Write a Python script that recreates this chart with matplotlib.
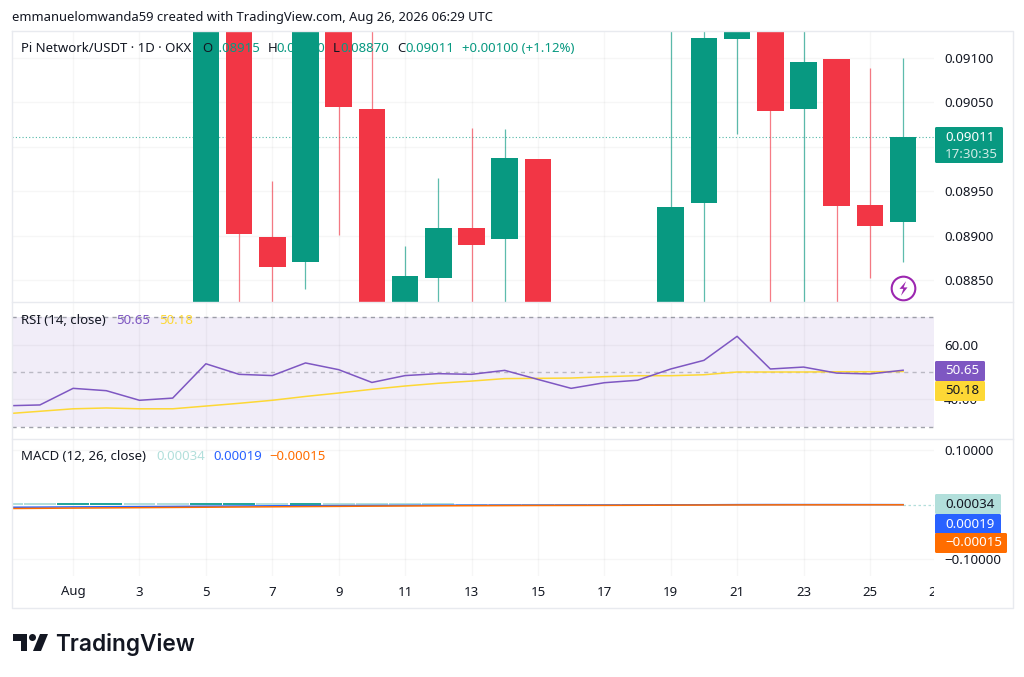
import matplotlib
matplotlib.use("Agg")
import matplotlib.pyplot as plt
from matplotlib.patches import FancyBboxPatch, Polygon, Circle
from matplotlib.lines import Line2D
from matplotlib.path import Path
from matplotlib.transforms import Affine2D

plt.rcParams['font.family'] = ['Noto Sans', 'DejaVu Sans']

# ---------- data ----------
candle_days = [5, 6, 7, 8, 9, 10, 11, 12, 13, 14, 15, 16, 17, 18, 19, 20, 21, 22, 23, 24, 25, 26]
opens  = [.0878, .0920, .08899, .08870, .0925, .09043, .0878, .08852, .08909, .08896, .08986, .0878, .0874, .0876, .0878, .08937, .09121, .0925, .09043, .09099, .08934, .08915]
highs  = [.0925, .0925, .08962, .0928, .0928, .0917, .08888, .08965, .09021, .09020, .08986, .0880, .0880, .0880, .0920, .0920, .0930, .0928, .0918, .09099, .09089, .09100]
lows   = [.0875, .0875, .0875, .08840, .08901, .0875, .0875, .0878, .0878, .0878, .0875, .0870, .0870, .0872, .0875, .0875, .09014, .0875, .0875, .0875, .08852, .08870]
closes = [.0925, .08902, .08865, .0925, .09045, .0878, .08854, .08909, .08889, .08987, .0878, .0874, .0876, .0878, .08932, .09122, .0925, .09040, .09095, .08933, .08911, .09011]

line_days = list(range(-1, 27))
rsi = [37.7, 38.0, 44.05, 43.2, 39.7, 40.5, 53.0, 49.15, 48.7, 53.3, 50.85, 46.2, 48.7, 49.4,
       49.15, 50.6, 47.3, 44.05, 46.1, 47.0, 51.1, 54.25, 63.0, 51.1, 51.8, 49.6, 49.3, 50.65]
rsi_ma = [34.8, 35.7, 36.6, 36.9, 36.6, 36.6, 37.6, 38.6, 39.7, 41.1, 42.35, 43.7, 44.9, 45.9,
          46.7, 47.6, 47.7, 47.8, 48.3, 48.65, 48.65, 49.0, 50.0, 50.0, 50.0, 50.1, 50.1, 50.18]
macd = [-.0047, -.0044, -.0040, -.0037, -.0034, -.0031, -.0027, -.0024, -.0020, -.0018, -.0016, -.0014, -.0012, -.0010,
        -.0009, -.0008, -.0008, -.0007, -.0006, -.0005, -.0003, -.0001, .0002, .0003, .0003, .0003, .00025, .00019]
signal = [-.0070, -.0066, -.0062, -.0058, -.0054, -.0050, -.0046, -.0042, -.0038, -.0034, -.0030, -.0026, -.0023, -.0020,
          -.0018, -.0016, -.0014, -.0013, -.0012, -.0010, -.0008, -.0006, -.0004, -.0003, -.0002, -.0002, -.00015, -.00015]
hist = [.0033, .0030, .0034, .0036, .0032, .0028, .0032, .0036, .0032, .0036, .0032, .0029, .0026, .0023,
        .0016, .0012, .0010, .0009, .0008, .0007, .0007, .0007, .0009, .0006, .0005, .0005, .0004, .00034]

price_ticks = [.0885, .0890, .0895, .0900, .0905, .0910]
price_tick_labels = ["0.08850", "0.08900", "0.08950", "0.09000", "0.09050", "0.09100"]
rsi_ticks = [40, 60]
macd_ticks = [-.1, .1]
date_ticks = [1, 3, 5, 7, 9, 11, 13, 15, 17, 19, 21, 23, 25, 27]
date_labels = ["Aug", "3", "5", "7", "9", "11", "13", "15", "17", "19", "21", "23", "25", "27"]
last_close = .09011

# ---------- style ----------
W, H = 1024, 677
GREEN, RED = "#089981", "#F23645"
PURPLE, YELLOW = "#7E57C2", "#FDD835"
TEAL_L, TEAL_D, BLUE, ORANGE = "#B2DFDB", "#26A69A", "#2962FF", "#FF6D00"
TXT = "#131722"
FRAME = "#E8EAEF"
FS = 9.5

fig = plt.figure(figsize=(W / 100, H / 100), dpi=100, facecolor="white")
px = Affine2D().scale(1, -1).translate(0, H)
XLIM = (-0.84, 26.93)
L, R = 12, 934


def pane(y0, y1):
    ax = fig.add_axes([L / W, 1 - y1 / H, (R - L) / W, (y1 - y0) / H])
    ax.set_xlim(*XLIM)
    for s in ax.spines.values():
        s.set_visible(False)
    ax.set_xticks(date_ticks[:-1])
    ax.tick_params(axis='x', length=0, labelbottom=False)
    ax.yaxis.tick_right()
    ax.tick_params(axis='y', length=0, pad=7.2, labelsize=FS + 0.1, labelcolor=TXT)
    ax.grid(True, color="black", alpha=0.035, lw=1)
    ax.set_axisbelow(True)
    ax.patch.set_alpha(0)
    return ax


# ---------- price pane ----------
ax = pane(31, 302)
ax.set_ylim(.088253, .091303)
ax.set_yticks(price_ticks)
ax.set_yticklabels(price_tick_labels)
for t, lab in zip(ax.get_yticklabels(), price_tick_labels):
    t.set_visible(lab != "0.09000")
cols = [GREEN if c >= o else RED for o, c in zip(opens, closes)]
ax.vlines(candle_days, lows, highs, colors=cols, lw=0.9, alpha=0.65, zorder=2)
ax.bar(candle_days, [c - o for o, c in zip(opens, closes)], bottom=opens, width=0.8,
       color=cols, linewidth=0, zorder=3)
ax.axhline(last_close, color=GREEN, lw=0.8, ls=(0, (1, 2)), alpha=0.7, zorder=1)
bolt = Path([(0.35, 1), (-0.55, -0.05), (-0.02, -0.05), (-0.35, -1), (0.55, 0.15), (0.02, 0.15), (0.35, 1)])
ax.scatter([26], [.088416], s=290, facecolor="white", edgecolor="#9C27B0", lw=1.5, zorder=4)
ax.scatter([26], [.088416], s=110, marker=bolt, color="#9C27B0", lw=0, zorder=5)

# ---------- RSI pane ----------
ax2 = pane(302, 439)
ax2.set_ylim(25.6, 75.5)
ax2.set_yticks(rsi_ticks)
ax2.set_yticklabels(["40.00", "60.00"])
ax2.axhspan(30, 70, color=PURPLE, alpha=0.1, lw=0, zorder=0)
for lev in (70, 50, 30):
    ax2.axhline(lev, color="#787B86", lw=1, ls=(0, (3, 3)), alpha=0.7 if lev != 50 else 0.45, zorder=1)
ax2.plot(line_days, rsi_ma, color=YELLOW, lw=1.1, zorder=3)
ax2.plot(line_days, rsi, color=PURPLE, lw=1.1, zorder=4)

# ---------- MACD pane ----------
ax3 = pane(439, 576)
ax3.set_ylim(-.1313, .1211)
ax3.set_yticks(macd_ticks)
ax3.set_yticklabels(["\u22120.10000", "0.10000"])
hcols = [TEAL_L] + [TEAL_D if b > a else TEAL_L for a, b in zip(hist, hist[1:])]
ax3.bar(line_days, hist, width=0.96, color=hcols, linewidth=0, zorder=2)
ax3.plot(line_days, macd, color=BLUE, lw=1.1, zorder=3)
ax3.plot(line_days, signal, color=ORANGE, lw=1.1, zorder=4)
ax3.plot([26, XLIM[1]], [hist[-1], hist[-1]], color=TEAL_L, lw=0.9, ls=(0, (2, 2)), zorder=1)

# ---------- time axis ----------
ax4 = fig.add_axes([L / W, 1 - 608 / H, (R - L) / W, 32 / H])
ax4.set_xlim(*XLIM)
ax4.set_ylim(0, 1)
ax4.axis("off")
for d, lab in zip(date_ticks, date_labels):
    ax4.text(d, 0.5, lab, ha="center", va="center", fontsize=FS, color=TXT, clip_on=True,
             fontweight="medium" if lab == "Aug" else "normal")


# ---------- frame & overlays ----------
def fig_line(xs, ys, c=FRAME, lw=1.0):
    fig.add_artist(Line2D(xs, ys, transform=px, color=c, lw=lw, zorder=1))


fig_line([12, 1013, 1013, 12, 12], [31, 31, 608, 608, 31])
fig_line([12, 1013], [302, 302])
fig_line([12, 1013], [439, 439])


def text(x, y, s, color=TXT, size=FS, **kw):
    kw.setdefault("va", "center")
    fig.text(x, y, s, transform=px, color=color, fontsize=size, zorder=10, **kw)


text(12, 17.5, "emmanuelomwanda59 created with TradingView.com, Aug 26, 2026 06:29 UTC", size=9.35)
text(21, 48, "Pi Network/USDT \u00b7 1D \u00b7 OKX")
for x, s, c in [(202, "O", TXT), (211, "0.08915", GREEN), (268, "H", TXT), (276, "0.09100", GREEN),
                (333, "L", TXT), (340, "0.08870", GREEN), (397, "C", TXT), (405, "0.09011", GREEN),
                (462, "+0.00100 (+1.12%)", GREEN)]:
    text(x, 48, s, color=c)

text(21, 320, "RSI (14, close)")
text(116, 320, "50.65", color=PURPLE)
text(159, 320, "50.18", color=YELLOW)
text(21, 457, "MACD (12, 26, close)")
text(156, 457, "0.00034", color=TEAL_L)
text(213, 457, "0.00019", color=BLUE)
text(269, 457, "\u22120.00015", color=ORANGE)


def tag(x0, y0, x1, y1, fc, lines):
    fig.add_artist(FancyBboxPatch((x0, y0), x1 - x0, y1 - y0, boxstyle="round,pad=0,rounding_size=1.5",
                                  transform=px, fc=fc, ec="none", zorder=8))
    for yy, s, c in lines:
        text(945, yy, s, color=c, size=FS + 0.1)


tag(935, 127, 1003, 163, GREEN, [(137.5, "0.09011", "white"), (154, "17:30:35", "#CFEBE6")])
tag(935, 361, 985, 381, PURPLE, [(370.5, "50.65", "white")])
tag(935, 381, 985, 401, YELLOW, [(390.5, "50.18", TXT)])
tag(935, 494, 1001, 514, TEAL_L, [(504, "0.00034", TXT)])
tag(935, 514, 1001, 534, BLUE, [(524, "0.00019", "white")])
tag(935, 533, 1007, 553, ORANGE, [(543, "\u22120.00015", "white")])

# ---------- logo ----------
LOGO = "#131722"
fig.add_artist(Polygon([(13, 634), (27, 634), (27, 651), (20.5, 651), (20.5, 641), (13, 641)],
                       transform=px, fc=LOGO, ec="none", zorder=5))
fig.add_artist(Circle((32.5, 637.5), 3.5, transform=px, fc=LOGO, ec="none", zorder=5))
fig.add_artist(Polygon([(40, 634), (48, 634), (41, 651), (33, 651)], transform=px, fc=LOGO, ec="none", zorder=5))
fig.text(55, 644.5, "TradingView", transform=px, color=LOGO, fontsize=16.3, family="Inter",
         fontweight="semibold", va="center", zorder=5)

fig.savefig("out.png", dpi=100)
